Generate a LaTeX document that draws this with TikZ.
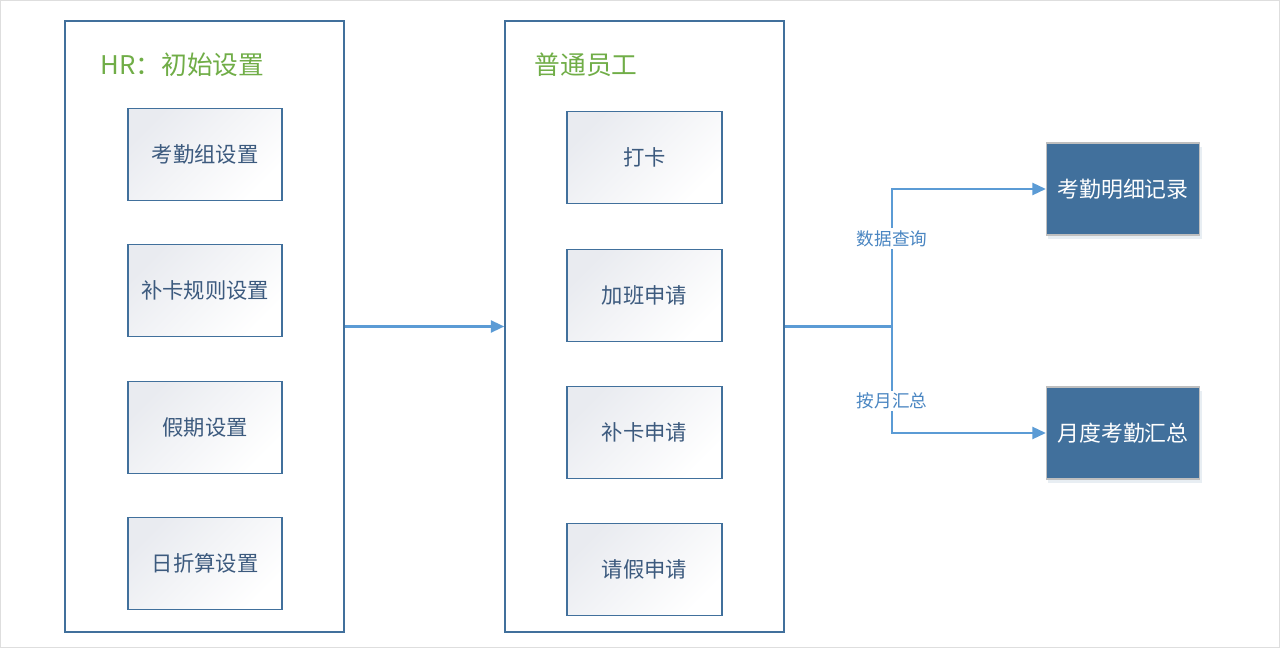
\documentclass[tikz,border=0pt]{standalone}
\usepackage{fontspec}
\setmainfont{Noto Sans CJK SC}
\usetikzlibrary{arrows.meta,shadows}

\definecolor{boxblue}{HTML}{41709C}
\definecolor{flowblue}{HTML}{5B9BD5}
\definecolor{textblue}{HTML}{3C5A7E}
\definecolor{lblblue}{HTML}{4A86C2}
\definecolor{hrgreen}{HTML}{70AD47}
\definecolor{shadegray}{HTML}{E9EBF0}

\tikzset{
    container/.style={draw=boxblue, line width=1.4pt, minimum width=209pt, minimum height=458pt},
    stepbox/.style={draw=boxblue, line width=1.4pt, top color=shadegray, bottom color=white,
        shading angle=45, minimum width=116pt, minimum height=69pt, text=textblue,
        font=\fontsize{16}{18}\selectfont},
    resultbox/.style={draw=black!25, line width=0.8pt, fill=boxblue, text=white,
        minimum width=115pt, minimum height=69pt, font=\fontsize{16.4}{18}\selectfont,
        drop shadow={opacity=0.12, shadow xshift=1.5pt, shadow yshift=-3pt, fill=boxblue}},
    title/.style={font=\fontsize{19.3}{22}\selectfont, anchor=west},
    flow/.style={draw=flowblue, line width=1.6pt, -{Triangle[length=10pt,width=9pt]}},
    line/.style={draw=flowblue, line width=1.6pt},
    lbl/.style={fill=white, text=lblblue, inner sep=1.5pt, font=\fontsize{13.2}{15}\selectfont}
}

\begin{document}
\begin{tikzpicture}[x=0.75pt,y=-0.75pt]
    \useasboundingbox (0,0) rectangle (1280,648);
    \draw [black!13, line width=0.75pt] (0.5,0.5) rectangle (1279.5,647.5);

    % HR setup
    \node [container] (hr) at (204.5,326.5) {};
    \node [title, text=hrgreen] (hrtitle) at (96,65) {HR：初始设置};
    \node [stepbox] (group) at (205,154.5) {考勤组设置};
    \node [stepbox] (rule) at (205,290.5) {补卡规则设置};
    \node [stepbox] (holiday) at (205,427.5) {假期设置};
    \node [stepbox] (daily) at (205,563.5) {日折算设置};

    % employees
    \node [container] (emp) at (644.5,326.5) {};
    \node [title, text=hrgreen] (emptitle) at (530,65) {普通员工};
    \node [stepbox] (clock) at (644.5,157.5) {打卡};
    \node [stepbox] (overtime) at (644.5,295.5) {加班申请};
    \node [stepbox] (makeup) at (644.5,432.5) {补卡申请};
    \node [stepbox] (leave) at (644.5,569.5) {请假申请};

    % results
    \node [resultbox] (detail) at (1123,189) {考勤明细记录};
    \node [resultbox] (summary) at (1123,433) {月度考勤汇总};

    % connectors
    \draw [flow] (hr.east) -- (emp.west);
    \coordinate (split) at (892,326.5);
    \draw [line] (emp.east) -- (split);
    \draw [flow] (split) |- node [lbl, pos=0.32] {数据查询} (detail.west);
    \draw [flow] (split) |- node [lbl, pos=0.35] {按月汇总} (summary.west);
\end{tikzpicture}
\end{document}
